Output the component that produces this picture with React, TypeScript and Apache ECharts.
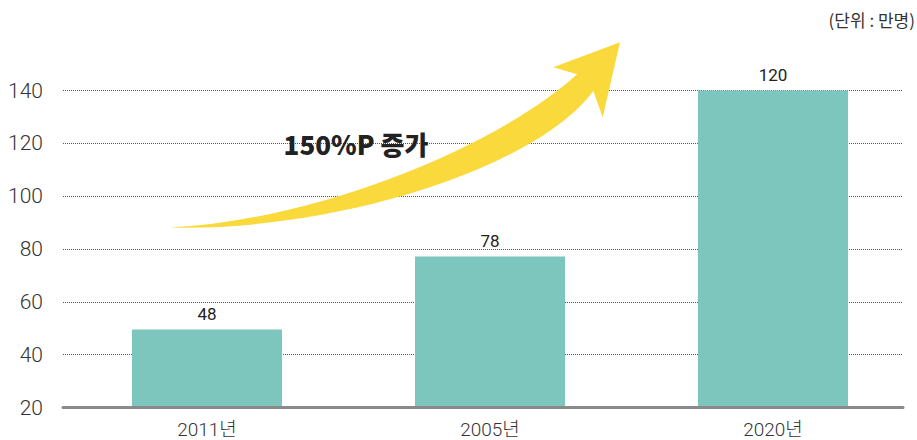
import React, { useEffect, useRef } from "react";
import * as echarts from "echarts";

const categories = ["2011년", "2005년", "2020년"];
const barValues = [49.5, 77.2, 140];
const barLabels = ["48", "78", "120"];
const yMin = 20;
const yMax = 140;
const yStep = 20;
const unitText = "(단위 : 만명)";
const arrowText = "150%P 증가";

const ARROW_D =
  "M170,227.5 C320,220 500,145 577,74.3 " +
  "L553.3,67.3 L620,42.3 L602.7,117.3 L593.3,91 " +
  "C535,170 330,232 170,227.5 Z";

let registered = false;
function ensureShape() {
  if (registered) return;
  echarts.graphic.registerShape("arrowShape", echarts.graphic.extendPath(ARROW_D, {}) as any);
  registered = true;
}

export default function App() {
  const ref = useRef<HTMLDivElement>(null);
  useEffect(() => {
    if (!ref.current) return;
    ensureShape();
    const chart = echarts.init(ref.current, undefined, { renderer: "svg" });
    const font = "Roboto, 'Noto Sans CJK KR', sans-serif";
    chart.setOption({
      animation: false,
      grid: [
        { left: 63, right: 14, top: 90.5, bottom: 32.5 },
        { left: 65.5, right: 2.5, top: 90.5, bottom: 32.5 },
      ],
      xAxis: [
        {
          gridIndex: 0,
          type: "value",
          min: 0,
          max: 1,
          z: 5,
          axisLine: { show: true, onZero: false, lineStyle: { color: "#8a8a8a", width: 3 } },
          axisTick: { show: false },
          axisLabel: { show: false },
          splitLine: { show: false },
        },
        {
          gridIndex: 1,
          type: "category",
          data: categories,
          axisLine: { show: false },
          axisTick: { show: false },
          axisLabel: {
            margin: 12,
            color: "#333",
            fontSize: 19,
            fontFamily: font,
            fontWeight: 300,
          },
        },
      ],
      yAxis: [
        {
          gridIndex: 0,
          type: "value",
          min: yMin,
          max: yMax,
          interval: yStep,
          axisLine: { show: false },
          axisTick: { show: false },
          axisLabel: {
            margin: 20,
            color: "#333",
            fontSize: 21,
            fontFamily: font,
            fontWeight: 300,
          },
          splitLine: {
            show: true,
            lineStyle: { type: "dotted", color: "#555", width: 1 },
          },
        },
        {
          gridIndex: 1,
          type: "value",
          min: yMin,
          max: yMax,
          interval: yStep,
          show: false,
          splitLine: { show: false },
        },
      ],
      series: [
        {
          type: "bar",
          xAxisIndex: 1,
          yAxisIndex: 1,
          data: barValues,
          barWidth: 150,
          itemStyle: { color: "#7cc6bd" },
          label: {
            show: true,
            position: "top",
            distance: 7,
            color: "#222",
            fontSize: 17,
            fontFamily: font,
            formatter: (p: any) => barLabels[p.dataIndex],
          },
        },
      ],
      graphic: [
        {
          type: "arrowShape",
          x: 0,
          y: 0,
          z: 10,
          style: { fill: "#f9d93b" },
        },
        {
          type: "text",
          x: 356,
          y: 143.5,
          z: 11,
          style: {
            text: arrowText,
            fill: "#222",
            fontSize: 26,
            fontWeight: 900,
            fontFamily: "'Noto Sans CJK KR', sans-serif",
            align: "center",
            verticalAlign: "middle",
          },
        },
        {
          type: "text",
          right: 2,
          top: 11,
          style: {
            text: unitText,
            fill: "#333",
            fontSize: 17,
            fontFamily: "'Noto Sans CJK KR', sans-serif",
          },
        },
      ],
    } as any);
    return () => chart.dispose();
  }, []);
  return <div ref={ref} style={{ width: 917, height: 440, position: "absolute", left: 0, top: 0 }} />;
}
